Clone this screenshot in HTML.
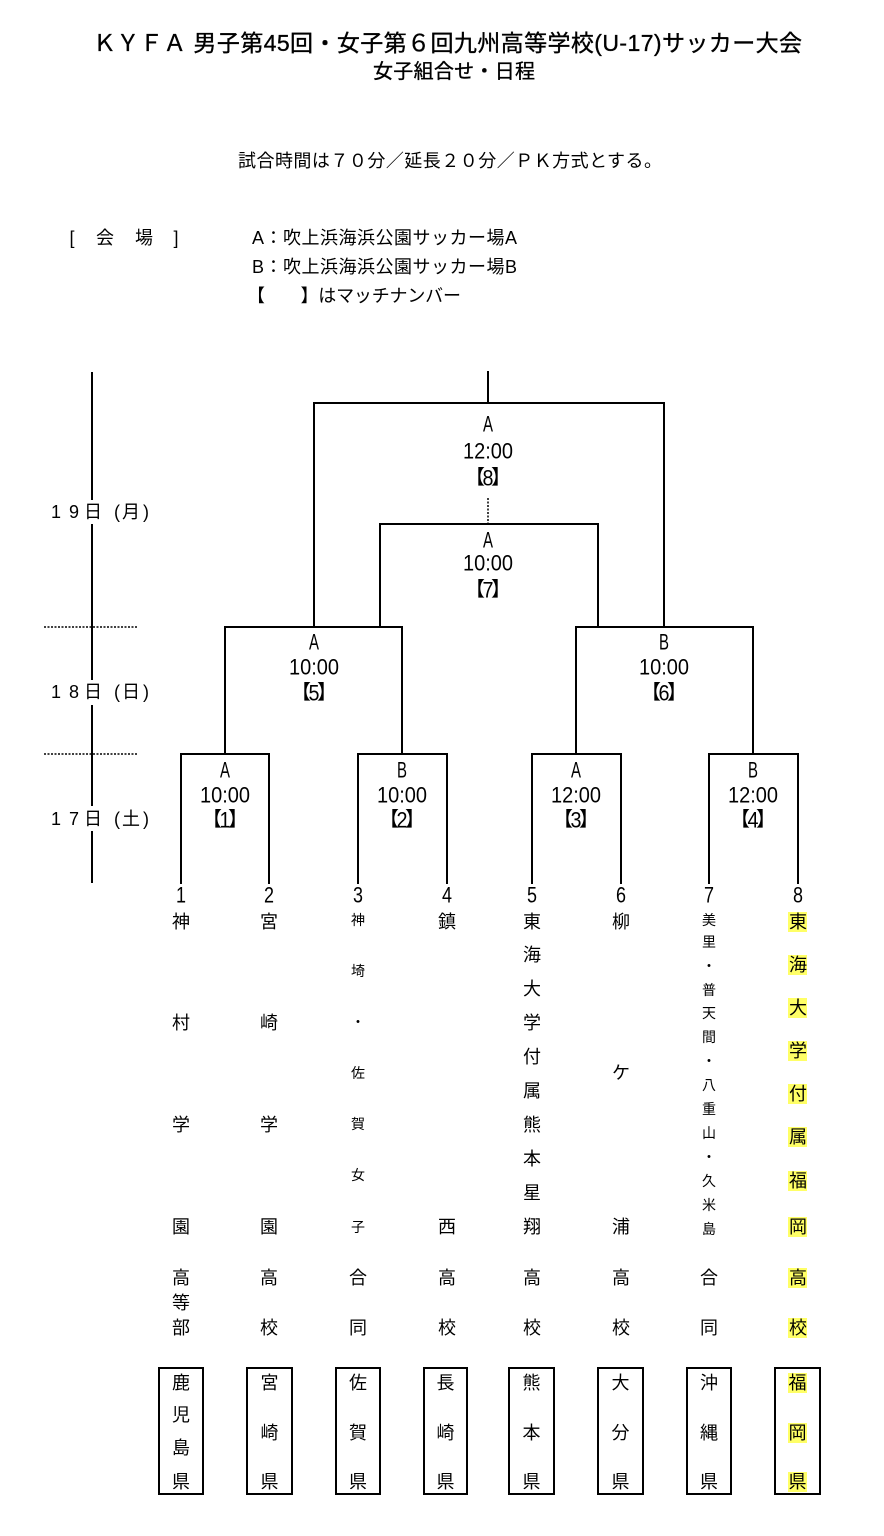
<!DOCTYPE html>
<html>
<head>
<meta charset="utf-8">
<style>
  html,body{margin:0;padding:0;background:#fff;}
  body{width:884px;height:1536px;overflow:hidden;}
  svg{display:block;}
  text{font-family:"Liberation Sans","Noto Sans CJK JP",sans-serif;fill:#000;}
  .c{text-anchor:middle;dominant-baseline:central;}
  .n{font-size:18px;}
  .s{font-size:14px;}
  .lab{font-size:22px;}
  .bl{font-size:20px;text-anchor:end;dominant-baseline:central;}
  .br{font-size:20px;text-anchor:start;dominant-baseline:central;}
  .d{font-size:18px;}
</style>
</head>
<body>
<svg width="884" height="1536" viewBox="0 0 884 1536" xmlns="http://www.w3.org/2000/svg">
  <rect x="0" y="0" width="884" height="1536" fill="#fff"/>

  <!-- Header -->
  <text x="93" y="43" font-size="23" dominant-baseline="central" textLength="709" lengthAdjust="spacing" stroke="#000" stroke-width="0.35">ＫＹＦＡ 男子第45回・女子第６回九州高等学校(U-17)サッカー大会</text>
  <text x="373" y="72" font-size="20" dominant-baseline="central" textLength="162" lengthAdjust="spacing" stroke="#000" stroke-width="0.35">女子組合せ・日程</text>

  <text x="238" y="161" font-size="18" dominant-baseline="central" textLength="424" lengthAdjust="spacing">試合時間は７０分／延長２０分／ＰＫ方式とする。</text>

  <text class="c n" x="72" y="238">[</text>
  <text class="c n" x="105" y="238">会</text>
  <text class="c n" x="144" y="238">場</text>
  <text class="c n" x="176" y="238">]</text>

  <text x="252" y="238" font-size="18" dominant-baseline="central" textLength="265" lengthAdjust="spacing">A：吹上浜海浜公園サッカー場A</text>
  <text x="252" y="267" font-size="18" dominant-baseline="central" textLength="265" lengthAdjust="spacing">B：吹上浜海浜公園サッカー場B</text>
  <text x="247" y="296" font-size="18" dominant-baseline="central" textLength="214" lengthAdjust="spacing">【　　】はマッチナンバー</text>

  <!-- Timeline -->
  <line x1="92" y1="372" x2="92" y2="883" stroke="#000" stroke-width="2"/>
  <line x1="44" y1="627" x2="137" y2="627" stroke="#000" stroke-width="1.5" stroke-dasharray="2,1.5"/>
  <line x1="44" y1="754" x2="137" y2="754" stroke="#000" stroke-width="1.5" stroke-dasharray="2,1.5"/>

  <rect x="84" y="500" width="18" height="24" fill="#fff"/>
  <g class="c d">
    <text x="56" y="512">1</text><text x="74" y="512">9</text><text x="93" y="512">日</text>
    <text x="117" y="512">(</text><text x="131" y="512">月</text><text x="146" y="512">)</text>
  </g>
  <rect x="84" y="680" width="18" height="25" fill="#fff"/>
  <g class="c d">
    <text x="56" y="692">1</text><text x="74" y="692">8</text><text x="93" y="692">日</text>
    <text x="117" y="692">(</text><text x="131" y="692">日</text><text x="146" y="692">)</text>
  </g>
  <rect x="84" y="806" width="18" height="25" fill="#fff"/>
  <g class="c d">
    <text x="56" y="819">1</text><text x="74" y="819">7</text><text x="93" y="819">日</text>
    <text x="117" y="819">(</text><text x="131" y="819">土</text><text x="146" y="819">)</text>
  </g>

  <!-- Bracket lines -->
  <g stroke="#000" stroke-width="2" fill="none" stroke-linecap="square">
    <line x1="488" y1="372" x2="488" y2="403"/>
    <polyline points="314,627 314,403 664,403 664,627"/>
    <polyline points="380,627 380,524 598,524 598,627"/>
    <polyline points="225,754 225,627 402,627 402,754"/>
    <polyline points="576,754 576,627 753,627 753,754"/>
    <polyline points="181,883 181,754 269,754 269,883"/>
    <polyline points="358,883 358,754 447,754 447,883"/>
    <polyline points="532,883 532,754 621,754 621,883"/>
    <polyline points="709,883 709,754 798,754 798,883"/>
  </g>
  <line x1="488" y1="498" x2="488" y2="524" stroke="#000" stroke-width="1.5" stroke-dasharray="2,1.5"/>

  <!-- Match labels -->
  <g class="lab">
    <text class="c" x="488" y="424" textLength="10" lengthAdjust="spacingAndGlyphs">A</text>
    <text class="c" x="488" y="451" textLength="50" lengthAdjust="spacingAndGlyphs">12:00</text>
    <text class="c" x="488" y="540" textLength="10" lengthAdjust="spacingAndGlyphs">A</text>
    <text class="c" x="488" y="563" textLength="50" lengthAdjust="spacingAndGlyphs">10:00</text>
    <text class="c" x="314" y="642" textLength="10" lengthAdjust="spacingAndGlyphs">A</text>
    <text class="c" x="314" y="667" textLength="50" lengthAdjust="spacingAndGlyphs">10:00</text>
    <text class="c" x="664" y="642" textLength="10" lengthAdjust="spacingAndGlyphs">B</text>
    <text class="c" x="664" y="667" textLength="50" lengthAdjust="spacingAndGlyphs">10:00</text>
    <text class="c" x="225" y="770" textLength="10" lengthAdjust="spacingAndGlyphs">A</text>
    <text class="c" x="225" y="795" textLength="50" lengthAdjust="spacingAndGlyphs">10:00</text>
    <text class="c" x="402" y="770" textLength="10" lengthAdjust="spacingAndGlyphs">B</text>
    <text class="c" x="402" y="795" textLength="50" lengthAdjust="spacingAndGlyphs">10:00</text>
    <text class="c" x="576" y="770" textLength="10" lengthAdjust="spacingAndGlyphs">A</text>
    <text class="c" x="576" y="795" textLength="50" lengthAdjust="spacingAndGlyphs">12:00</text>
    <text class="c" x="753" y="770" textLength="10" lengthAdjust="spacingAndGlyphs">B</text>
    <text class="c" x="753" y="795" textLength="50" lengthAdjust="spacingAndGlyphs">12:00</text>
  </g>

  <!-- Match numbers 【n】 -->
  <g>
    <text class="bl" x="485" y="478">【</text><text class="c lab" x="488" y="478" textLength="11" lengthAdjust="spacingAndGlyphs">8</text><text class="br" x="491" y="478">】</text>
    <text class="bl" x="485" y="590">【</text><text class="c lab" x="488" y="590" textLength="11" lengthAdjust="spacingAndGlyphs">7</text><text class="br" x="491" y="590">】</text>
    <text class="bl" x="311" y="693">【</text><text class="c lab" x="314" y="693" textLength="11" lengthAdjust="spacingAndGlyphs">5</text><text class="br" x="317" y="693">】</text>
    <text class="bl" x="661" y="693">【</text><text class="c lab" x="664" y="693" textLength="11" lengthAdjust="spacingAndGlyphs">6</text><text class="br" x="667" y="693">】</text>
    <text class="bl" x="222" y="820">【</text><text class="c lab" x="225" y="820" textLength="11" lengthAdjust="spacingAndGlyphs">1</text><text class="br" x="228" y="820">】</text>
    <text class="bl" x="399" y="820">【</text><text class="c lab" x="402" y="820" textLength="11" lengthAdjust="spacingAndGlyphs">2</text><text class="br" x="405" y="820">】</text>
    <text class="bl" x="573" y="820">【</text><text class="c lab" x="576" y="820" textLength="11" lengthAdjust="spacingAndGlyphs">3</text><text class="br" x="579" y="820">】</text>
    <text class="bl" x="750" y="820">【</text><text class="c lab" x="753" y="820" textLength="11" lengthAdjust="spacingAndGlyphs">4</text><text class="br" x="756" y="820">】</text>
  </g>

  <!-- Seed numbers -->
  <g class="lab">
    <text class="c" x="181" y="895" textLength="10" lengthAdjust="spacingAndGlyphs">1</text>
    <text class="c" x="269" y="895" textLength="10" lengthAdjust="spacingAndGlyphs">2</text>
    <text class="c" x="358" y="895" textLength="10" lengthAdjust="spacingAndGlyphs">3</text>
    <text class="c" x="447" y="895" textLength="10" lengthAdjust="spacingAndGlyphs">4</text>
    <text class="c" x="532" y="895" textLength="10" lengthAdjust="spacingAndGlyphs">5</text>
    <text class="c" x="621" y="895" textLength="10" lengthAdjust="spacingAndGlyphs">6</text>
    <text class="c" x="709" y="895" textLength="10" lengthAdjust="spacingAndGlyphs">7</text>
    <text class="c" x="798" y="895" textLength="10" lengthAdjust="spacingAndGlyphs">8</text>
  </g>

  <!-- Column 1 -->
  <g class="c n">
    <text x="181" y="922">神</text>
    <text x="181" y="1023">村</text>
    <text x="181" y="1125">学</text>
    <text x="181" y="1227">園</text>
    <text x="181" y="1278">高</text>
    <text x="181" y="1303">等</text>
    <text x="181" y="1328">部</text>
  </g>
  <!-- Column 2 -->
  <g class="c n">
    <text x="269" y="922">宮</text>
    <text x="269" y="1023">崎</text>
    <text x="269" y="1125">学</text>
    <text x="269" y="1227">園</text>
    <text x="269" y="1278">高</text>
    <text x="269" y="1328">校</text>
  </g>
  <!-- Column 3 -->
  <g class="c s">
    <text x="358" y="920">神</text>
    <text x="358" y="971">埼</text>
    <text x="358" y="1022">・</text>
    <text x="358" y="1073">佐</text>
    <text x="358" y="1124">賀</text>
    <text x="358" y="1175">女</text>
    <text x="358" y="1227">子</text>
  </g>
  <g class="c n">
    <text x="358" y="1278">合</text>
    <text x="358" y="1328">同</text>
  </g>
  <!-- Column 4 -->
  <g class="c n">
    <text x="447" y="922">鎮</text>
    <text x="447" y="1227">西</text>
    <text x="447" y="1278">高</text>
    <text x="447" y="1328">校</text>
  </g>
  <!-- Column 5 -->
  <g class="c n">
    <text x="532" y="922">東</text>
    <text x="532" y="955">海</text>
    <text x="532" y="989">大</text>
    <text x="532" y="1023">学</text>
    <text x="532" y="1057">付</text>
    <text x="532" y="1091">属</text>
    <text x="532" y="1125">熊</text>
    <text x="532" y="1159">本</text>
    <text x="532" y="1193">星</text>
    <text x="532" y="1227">翔</text>
    <text x="532" y="1278">高</text>
    <text x="532" y="1328">校</text>
  </g>
  <!-- Column 6 -->
  <g class="c n">
    <text x="621" y="922">柳</text>
    <text x="621" y="1073">ケ</text>
    <text x="621" y="1227">浦</text>
    <text x="621" y="1278">高</text>
    <text x="621" y="1328">校</text>
  </g>
  <!-- Column 7 -->
  <g class="c s">
    <text x="709" y="920">美</text>
    <text x="709" y="942">里</text>
    <text x="709" y="966">・</text>
    <text x="709" y="990">普</text>
    <text x="709" y="1013">天</text>
    <text x="709" y="1037">間</text>
    <text x="709" y="1061">・</text>
    <text x="709" y="1085">八</text>
    <text x="709" y="1109">重</text>
    <text x="709" y="1133">山</text>
    <text x="709" y="1157">・</text>
    <text x="709" y="1181">久</text>
    <text x="709" y="1205">米</text>
    <text x="709" y="1229">島</text>
  </g>
  <g class="c n">
    <text x="709" y="1278">合</text>
    <text x="709" y="1328">同</text>
  </g>
  <!-- Column 8 (highlighted) -->
  <g fill="#ffff66">
    <rect x="788" y="912" width="19" height="20"/>
    <rect x="788" y="955" width="19" height="20"/>
    <rect x="788" y="998" width="19" height="20"/>
    <rect x="788" y="1041" width="19" height="20"/>
    <rect x="788" y="1084" width="19" height="20"/>
    <rect x="788" y="1127" width="19" height="20"/>
    <rect x="788" y="1171" width="19" height="20"/>
    <rect x="788" y="1217" width="19" height="20"/>
    <rect x="788" y="1268" width="19" height="20"/>
    <rect x="788" y="1318" width="19" height="20"/>
  </g>
  <g class="c n">
    <text x="798" y="922">東</text>
    <text x="798" y="965">海</text>
    <text x="798" y="1008">大</text>
    <text x="798" y="1051">学</text>
    <text x="798" y="1094">付</text>
    <text x="798" y="1137">属</text>
    <text x="798" y="1181">福</text>
    <text x="798" y="1227">岡</text>
    <text x="798" y="1278">高</text>
    <text x="798" y="1328">校</text>
  </g>

  <!-- Prefecture boxes -->
  <g stroke="#000" stroke-width="2" fill="none">
    <rect x="159" y="1368" width="44" height="126"/>
    <rect x="247" y="1368" width="45" height="126"/>
    <rect x="336" y="1368" width="44" height="126"/>
    <rect x="424" y="1368" width="43" height="126"/>
    <rect x="509" y="1368" width="45" height="126"/>
    <rect x="598" y="1368" width="45" height="126"/>
    <rect x="687" y="1368" width="44" height="126"/>
    <rect x="775" y="1368" width="45" height="126"/>
  </g>
  <g class="c n">
    <text x="181" y="1383">鹿</text>
    <text x="181" y="1415">児</text>
    <text x="181" y="1448">島</text>
    <text x="181" y="1482">県</text>

    <text x="269.5" y="1383">宮</text>
    <text x="269.5" y="1433">崎</text>
    <text x="269.5" y="1482">県</text>

    <text x="358" y="1383">佐</text>
    <text x="358" y="1433">賀</text>
    <text x="358" y="1482">県</text>

    <text x="445.5" y="1383">長</text>
    <text x="445.5" y="1433">崎</text>
    <text x="445.5" y="1482">県</text>

    <text x="531.5" y="1383">熊</text>
    <text x="531.5" y="1433">本</text>
    <text x="531.5" y="1482">県</text>

    <text x="620.5" y="1383">大</text>
    <text x="620.5" y="1433">分</text>
    <text x="620.5" y="1482">県</text>

    <text x="709" y="1383">沖</text>
    <text x="709" y="1433">縄</text>
    <text x="709" y="1482">県</text>
  </g>
  <g fill="#ffff66">
    <rect x="788" y="1373" width="19" height="20"/>
    <rect x="788" y="1423" width="19" height="20"/>
    <rect x="788" y="1472" width="19" height="20"/>
  </g>
  <g class="c n">
    <text x="797.5" y="1383">福</text>
    <text x="797.5" y="1433">岡</text>
    <text x="797.5" y="1482">県</text>
  </g>
</svg>
</body>
</html>
